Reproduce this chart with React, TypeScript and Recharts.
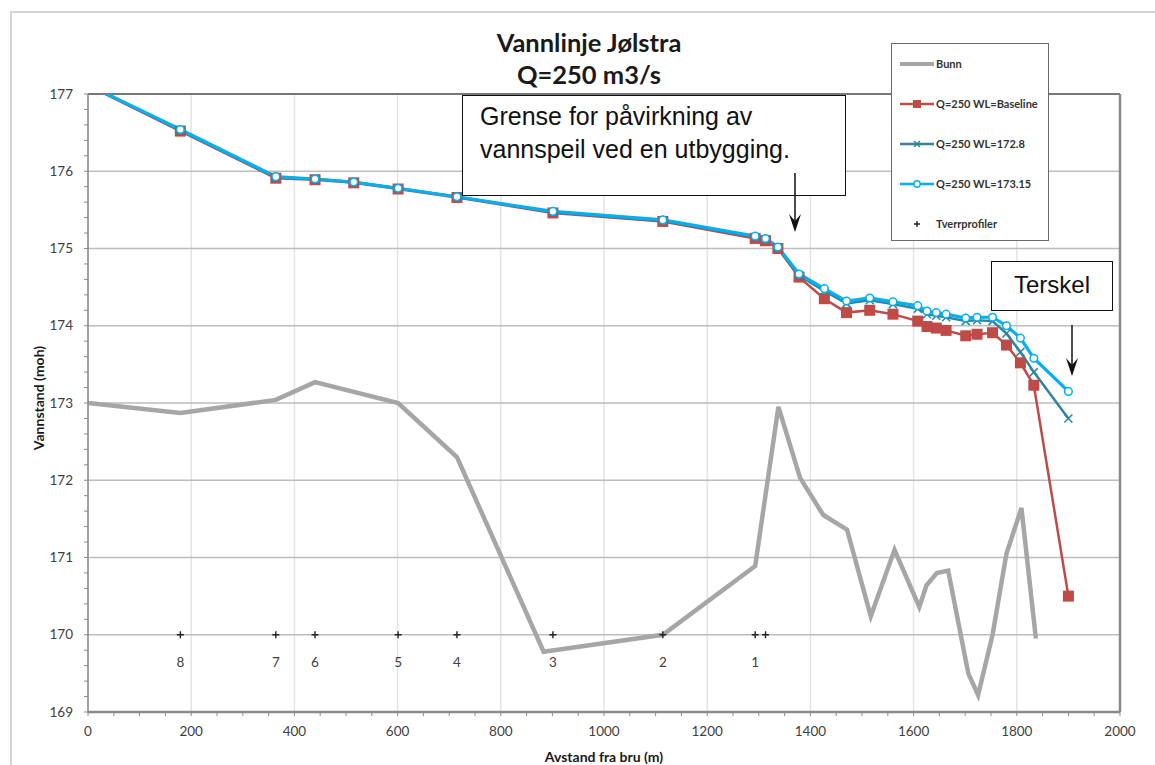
import React from "react";
import {
  ComposedChart,
  Line,
  Scatter,
  XAxis,
  YAxis,
  CartesianGrid,
  ReferenceLine,
} from "recharts";

// distance from bridge (m) for the water level profiles
const wlDistance = [
  0, 179, 364, 440, 515, 601, 715, 901, 1114, 1293, 1313, 1337, 1378, 1427,
  1470, 1515, 1560, 1608, 1626, 1644, 1663, 1701, 1723, 1753, 1780, 1807,
  1833, 1900,
];
const wlBaseline = [
  177.11, 176.52, 175.91, 175.89, 175.85, 175.77, 175.66, 175.46, 175.35,
  175.13, 175.1, 175.0, 174.63, 174.35, 174.17, 174.2, 174.15, 174.06, 173.99,
  173.97, 173.94, 173.87, 173.89, 173.91, 173.75, 173.52, 173.23, 170.5,
];
const wl1728 = [
  177.12, 176.53, 175.92, 175.9, 175.86, 175.78, 175.67, 175.47, 175.36,
  175.15, 175.12, 175.01, 174.65, 174.45, 174.29, 174.33, 174.28, 174.22,
  174.15, 174.13, 174.11, 174.06, 174.07, 174.06, 173.9, 173.66, 173.4, 172.8,
];
const wl17315 = [
  177.12, 176.54, 175.93, 175.9, 175.86, 175.78, 175.67, 175.48, 175.37,
  175.16, 175.13, 175.02, 174.67, 174.48, 174.32, 174.36, 174.31, 174.26,
  174.19, 174.17, 174.15, 174.1, 174.11, 174.11, 174.0, 173.84, 173.58, 173.15,
];

// river bed
const bunnDistance = [
  0, 179, 364, 440, 601, 715, 883, 1114, 1293, 1338, 1380, 1425, 1471, 1517,
  1563, 1611, 1625, 1645, 1667, 1706, 1725, 1753, 1780, 1809, 1837,
];
const bunnLevel = [
  173.0, 172.87, 173.04, 173.27, 173.0, 172.3, 169.78, 170.0, 170.89, 172.95,
  172.03, 171.55, 171.36, 170.24, 171.1, 170.36, 170.64, 170.8, 170.83, 169.5,
  169.22, 170.0, 171.05, 171.64, 169.95,
];

// cross sections
const profilDistance = [179, 364, 440, 601, 715, 901, 1114, 1293, 1313];
const profilLevel = [170, 170, 170, 170, 170, 170, 170, 170, 170];
const profilLabels = ["8", "7", "6", "5", "4", "3", "2", "1", ""];

const xTickLabels = [0, 200, 400, 600, 800, 1000, 1200, 1400, 1600, 1800, 2000];
const yTickLabels = [169, 170, 171, 172, 173, 174, 175, 176, 177];

const xMinor: number[] = [];
for (let v = 0; v <= 2000; v += 50) xMinor.push(v);
const yMinor: number[] = [];
for (let i = 0; i <= 40; i++) yMinor.push(Math.round((169 + i * 0.2) * 10) / 10);

const toPts = (xs: number[], ys: number[]) => xs.map((x, i) => ({ x, y: ys[i] }));
const baseData = toPts(wlDistance, wlBaseline);
const d1728 = toPts(wlDistance, wl1728);
const d17315 = toPts(wlDistance, wl17315);
const bunnData = toPts(bunnDistance, bunnLevel);
const profilData = profilDistance.map((x, i) => ({
  x,
  y: profilLevel[i],
  label: profilLabels[i],
}));

const RED = "#be4b48";
const TEAL = "#31849b";
const BLUE = "#00b0f0";
const GREY = "#a6a6a6";
const FONT = "Lato, 'Open Sans', sans-serif";

const XTick = (props: any) => {
  const { x, y, payload } = props;
  if (!xTickLabels.includes(payload.value)) return <g />;
  return (
    <text x={x} y={y} dy={9} textAnchor="middle" fontSize={13.5} fill="#404040" fontFamily={FONT}>
      {payload.value}
    </text>
  );
};

const YTick = (props: any) => {
  const { x, y, payload } = props;
  if (!Number.isInteger(payload.value)) return <g />;
  return (
    <text x={x} y={y} dy={4.5} textAnchor="end" fontSize={13.5} fill="#404040" fontFamily={FONT}>
      {payload.value}
    </text>
  );
};

const SquareDot = (p: any) => {
  if (p.cx == null || p.cy == null) return <g key={p.key} />;
  return <rect key={p.key} x={p.cx - 5.5} y={p.cy - 5.5} width={11} height={11} fill={RED} />;
};
const CrossDot = (p: any) => {
  if (p.cx == null || p.cy == null) return <g key={p.key} />;
  return (
    <path
      key={p.key}
      d={`M${p.cx - 4},${p.cy - 4}L${p.cx + 4},${p.cy + 4}M${p.cx - 4},${p.cy + 4}L${p.cx + 4},${p.cy - 4}`}
      stroke={TEAL}
      strokeWidth={1.5}
    />
  );
};
const CircleDot = (p: any) => {
  if (p.cx == null || p.cy == null) return <g key={p.key} />;
  return <circle key={p.key} cx={p.cx} cy={p.cy} r={3.8} fill="#fff" stroke={BLUE} strokeWidth={1.5} />;
};

const PlusMark = (p: any) => (
  <g>
    <path
      d={`M${p.cx - 3.5},${p.cy}L${p.cx + 3.5},${p.cy}M${p.cx},${p.cy - 3.5}L${p.cx},${p.cy + 3.5}`}
      stroke="#222"
      strokeWidth={1.4}
    />
    <text x={p.cx} y={p.cy + 32} textAnchor="middle" fontSize={13.5} fill="#404040" fontFamily={FONT}>
      {p.payload.label}
    </text>
  </g>
);

const legendItems = [
  { name: "Bunn", kind: "bunn" },
  { name: "Q=250 WL=Baseline", kind: "red" },
  { name: "Q=250 WL=172.8", kind: "teal" },
  { name: "Q=250 WL=173.15", kind: "blue" },
  { name: "Tverrprofiler", kind: "plus" },
];

const LegendIcon = ({ kind }: { kind: string }) => (
  <svg width={36} height={12} style={{ display: "block" }}>
    {kind === "bunn" && <line x1={1} y1={6} x2={35} y2={6} stroke={GREY} strokeWidth={4} />}
    {kind === "red" && (
      <g>
        <line x1={1} y1={6} x2={35} y2={6} stroke={RED} strokeWidth={2.5} />
        <rect x={14} y={2} width={8} height={8} fill={RED} />
      </g>
    )}
    {kind === "teal" && (
      <g>
        <line x1={1} y1={6} x2={35} y2={6} stroke={TEAL} strokeWidth={2.5} />
        <path d="M15,3L21,9M15,9L21,3" stroke={TEAL} strokeWidth={1.5} />
      </g>
    )}
    {kind === "blue" && (
      <g>
        <line x1={1} y1={6} x2={35} y2={6} stroke={BLUE} strokeWidth={2.5} />
        <circle cx={18} cy={6} r={3.2} fill="#fff" stroke={BLUE} strokeWidth={1.4} />
      </g>
    )}
    {kind === "plus" && <path d="M15,6L21,6M18,3L18,9" stroke="#222" strokeWidth={1.4} />}
  </svg>
);

export default function App() {
  return (
    <div
      style={{
        position: "absolute",
        left: 0,
        top: 0,
        width: 1155,
        height: 765,
        overflow: "hidden",
        background: "#fff",
        fontFamily: FONT,
      }}
    >
      {/* chart frame */}
      <div
        style={{
          position: "absolute",
          left: 10,
          top: 11,
          width: 1160,
          height: 780,
          border: "2px solid #d4d4d4",
        }}
      />

      <div style={{ position: "absolute", left: 0, top: 0 }}>
        <ComposedChart width={1155} height={765} margin={{ top: 94, right: 35, bottom: 23, left: 48 }}>
          <CartesianGrid horizontal={false} verticalValues={xTickLabels} stroke="#e4e4e4" strokeWidth={1.5} />
          <CartesianGrid vertical={false} horizontalValues={yTickLabels} stroke="#bdbdbd" strokeWidth={1.5} />
          <XAxis
            type="number"
            dataKey="x"
            domain={[0, 2000]}
            ticks={xMinor}
            interval={0}
            tick={XTick}
            tickSize={4}
            tickMargin={11}
            height={30}
            allowDataOverflow
            axisLine={{ stroke: "#8a8a8a", strokeWidth: 2.5 }}
            tickLine={{ stroke: "#8a8a8a" }}
          />
          <YAxis
            type="number"
            domain={[169, 177]}
            ticks={yMinor}
            interval={0}
            tick={YTick}
            tickSize={4}
            tickMargin={11}
            width={40}
            allowDataOverflow
            axisLine={{ stroke: "#8a8a8a", strokeWidth: 1.5 }}
            tickLine={{ stroke: "#8a8a8a" }}
          />
          <ReferenceLine y={177} stroke="#5a5a5a" strokeWidth={1.5} />
          <ReferenceLine x={2000} stroke="#8a8a8a" strokeWidth={2.5} />
          <Line
            data={bunnData}
            dataKey="y"
            type="linear"
            stroke={GREY}
            strokeWidth={4.5}
            dot={false}
            isAnimationActive={false}
          />
          <Line
            data={baseData}
            dataKey="y"
            type="linear"
            stroke={RED}
            strokeWidth={2.5}
            dot={SquareDot}
            isAnimationActive={false}
          />
          <Line
            data={d1728}
            dataKey="y"
            type="linear"
            stroke={TEAL}
            strokeWidth={2.5}
            dot={CrossDot}
            isAnimationActive={false}
          />
          <Line
            data={d17315}
            dataKey="y"
            type="linear"
            stroke={BLUE}
            strokeWidth={3.2}
            dot={CircleDot}
            isAnimationActive={false}
          />
          <Scatter data={profilData} dataKey="y" shape={PlusMark} isAnimationActive={false} />
        </ComposedChart>
      </div>

      {/* title */}
      <div
        style={{
          position: "absolute",
          left: 589,
          top: 26,
          transform: "translateX(-50%)",
          textAlign: "center",
          fontWeight: 700,
          fontSize: 25.5,
          lineHeight: "32px",
          color: "#1a1a1a",
          whiteSpace: "nowrap",
        }}
      >
        Vannlinje Jølstra
        <br />
        Q=250 m3/s
      </div>

      {/* axis titles */}
      <div
        style={{
          position: "absolute",
          left: 38,
          top: 398,
          transform: "translate(-50%, -50%) rotate(-90deg)",
          fontWeight: 700,
          fontSize: 14,
          color: "#1a1a1a",
          whiteSpace: "nowrap",
        }}
      >
        Vannstand (moh)
      </div>
      <div
        style={{
          position: "absolute",
          left: 604,
          top: 756,
          transform: "translate(-50%, -50%)",
          fontWeight: 700,
          fontSize: 14,
          color: "#1a1a1a",
          whiteSpace: "nowrap",
        }}
      >
        Avstand fra bru (m)
      </div>

      {/* legend */}
      <div
        style={{
          position: "absolute",
          left: 891,
          top: 43,
          width: 158,
          height: 198,
          border: "1.5px solid #6a6a6a",
          background: "#fff",
          boxSizing: "border-box",
        }}
      >
        {legendItems.map((it, i) => (
          <div
            key={it.name}
            style={{
              position: "absolute",
              left: 7,
              top: 13 + i * 40,
              display: "flex",
              alignItems: "center",
              fontSize: 11,
              fontWeight: 700,
              color: "#333",
              whiteSpace: "nowrap",
            }}
          >
            <LegendIcon kind={it.kind} />
            <span style={{ marginLeft: 1 }}>{it.name}</span>
          </div>
        ))}
      </div>

      {/* annotations */}
      <div
        style={{
          position: "absolute",
          left: 462,
          top: 95,
          width: 384,
          height: 101,
          border: "1.5px solid #111",
          background: "#fff",
          boxSizing: "border-box",
          fontFamily: "'Liberation Sans', Arial, sans-serif",
          fontSize: 25,
          lineHeight: "33px",
          color: "#111",
          padding: "4px 0 0 17px",
          whiteSpace: "nowrap",
        }}
      >
        Grense for påvirkning av
        <br />
        vannspeil ved en utbygging.
      </div>
      <div
        style={{
          position: "absolute",
          left: 991,
          top: 261,
          width: 122,
          height: 50,
          border: "1.5px solid #111",
          background: "#fff",
          boxSizing: "border-box",
          fontFamily: "'Liberation Sans', Arial, sans-serif",
          fontSize: 24,
          lineHeight: "46px",
          color: "#111",
          textAlign: "center",
        }}
      >
        Terskel
      </div>
      <svg
        width={1155}
        height={765}
        style={{ position: "absolute", left: 0, top: 0, pointerEvents: "none" }}
      >
        <line x1={795} y1={173} x2={795} y2={228} stroke="#111" strokeWidth={1.5} />
        <path d="M789,214L795,232L801,214L795,221Z" fill="#111" />
        <line x1={1072} y1={325} x2={1072} y2={372} stroke="#111" strokeWidth={1.5} />
        <path d="M1066,358L1072,376L1078,358L1072,365Z" fill="#111" />
      </svg>
    </div>
  );
}
